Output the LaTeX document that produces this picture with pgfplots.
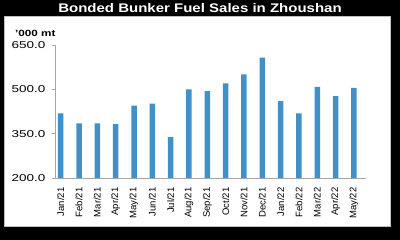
\documentclass[border=0pt]{standalone}
\usepackage{pgfplots}
\pgfplotsset{compat=1.18}
\usepackage{graphicx}
\usepackage{fontspec}
\setmainfont{Liberation Sans}
\definecolor{barblue}{RGB}{66,144,200}
\newcommand\sx[1]{\scalebox{1.35}[1]{#1}}
\begin{document}
\begin{tikzpicture}
\fill[black] (0bp,0bp) rectangle (400bp,240bp);
\fill[white, draw=gray!50, line width=0.6bp] (4.5bp,13.5bp) rectangle (390bp,223.5bp);
\node[white, font=\fontsize{12.5bp}{14bp}\selectfont\bfseries] at (200bp,232bp) {\scalebox{1.2}[1]{Bonded Bunker Fuel Sales in Zhoushan}};
\node[anchor=west, inner sep=0pt, font=\fontsize{9bp}{10bp}\selectfont\bfseries] at (15bp,207bp) {\scalebox{1.3}[1]{'000 mt}};
\begin{axis}[
  at={(55bp,62bp)}, anchor=south west,
  scale only axis, width=310.7bp, height=133bp,
  xmin=-0.31, xmax=16.64, ymin=200, ymax=650,
  axis x line*=bottom, axis y line*=left,
  axis line style={gray!70, line width=0.6bp},
  ytick={200,350,500,650},
  yticklabels={\sx{200.0},\sx{350.0},\sx{500.0},\sx{650.0}},
  yticklabel style={font=\fontsize{10bp}{11bp}\selectfont, xshift=-3bp},
  y tick style={gray!70, line width=0.6bp},
  tick align=outside, major tick length=3bp,
  xtick=data,
  xticklabels={Jan/21,Feb/21,Mar/21,Apr/21,May/21,Jun/21,Jul/21,Aug/21,Sep/21,Oct/21,Nov/21,Dec/21,Jan/22,Feb/22,Mar/22,Apr/22,May/22},
  xticklabel style={font=\fontsize{9.5bp}{10bp}\selectfont, rotate=90, anchor=east, yshift=0bp, xshift=-3bp},
  x tick style={draw=none},
  extra x ticks={0.72,1.72,2.72,3.72,4.72,5.72,6.72,7.72,8.72,9.72,10.72,11.72,12.72,13.72,14.72,15.72,16.64},
  extra x tick labels={},
  extra x tick style={tick align=inside, major tick length=2.5bp, tick style={gray!70, line width=0.6bp, draw=gray!70}},
  ybar, bar width=5.5bp,
]
\addplot[fill=barblue, draw=none] coordinates {
(0,419) (1,385) (2,385) (3,382) (4,445) (5,452) (6,338) (7,500) (8,494) (9,520) (10,551) (11,607) (12,460) (13,419) (14,508) (15,477) (16,505)
};
\end{axis}
\end{tikzpicture}
\end{document}
